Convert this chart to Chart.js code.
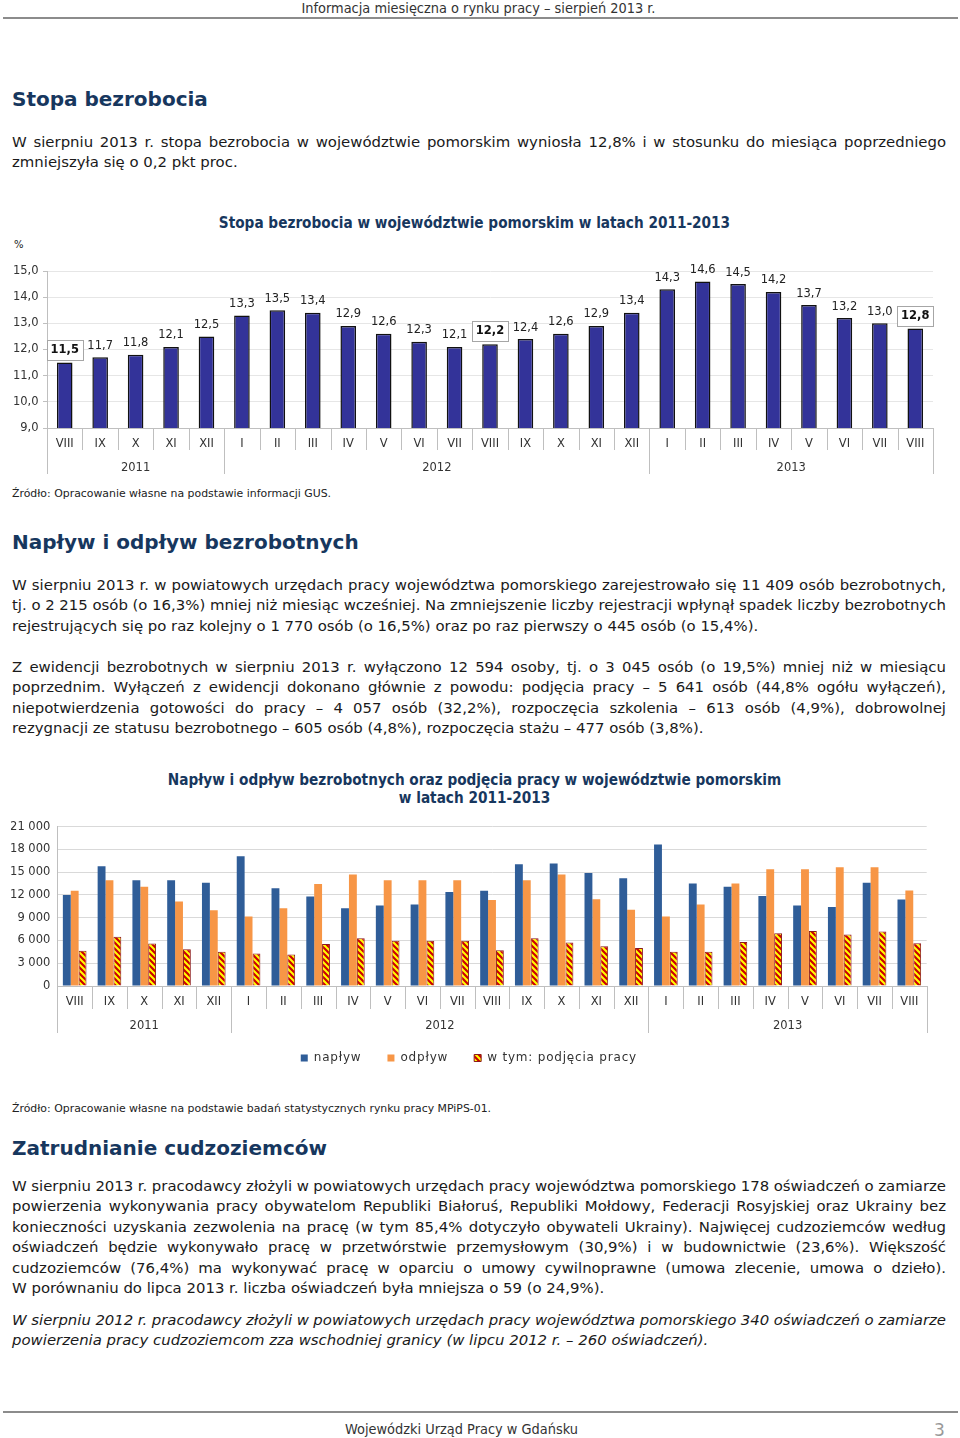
<!DOCTYPE html>
<html lang="pl">
<head>
<meta charset="utf-8">
<title>Informacja miesięczna o rynku pracy – sierpień 2013 r.</title>
<script src="https://cdn.jsdelivr.net/npm/chart.js@4.4.1/dist/chart.umd.min.js"></script>
<style>
  html, body { margin: 0; padding: 0; background: #fff; }
  body { width: 960px; height: 1438px; position: relative; overflow: hidden;
         font-family: "DejaVu Sans", Verdana, sans-serif; color: #1a1a1a; }
  .abs { position: absolute; }
  .narrow { font-family: "DejaVu Sans Condensed", "Liberation Sans Narrow", "DejaVu Sans", sans-serif; font-stretch: condensed; }
  .runhead { top: 0; left: 0; width: 957px; text-align: center; font-size: 14.4px; line-height: 16px; color: #333; }
  .rule { left: 3px; width: 955px; height: 2px; background: #8c8c8c; }
  h2 { position: absolute; left: 12px; margin: 0; font-size: 20px; line-height: 24px; font-weight: bold; color: #17375e; }
  .para { position: absolute; left: 12px; width: 934px; font-size: 14.9px; line-height: 20.4px; }
  .ln { text-align: justify; text-align-last: justify; word-spacing: -3px; }
  .ln.last { text-align-last: left; word-spacing: 0; }
  .para.it { font-style: italic; }
  .src { position: absolute; left: 12px; font-size: 10.9px; line-height: 14px; color: #222; }
  .ctitle { position: absolute; left: 0; width: 949px; text-align: center; font-weight: bold; font-size: 15.2px; line-height: 18px; color: #17375e; }
  canvas { position: absolute; left: 0; }
</style>
</head>
<body>
<div class="abs runhead narrow">Informacja miesięczna o rynku pracy – sierpień 2013 r.</div>
<div class="abs rule" style="top:17px"></div>

<h2 style="top:87px">Stopa bezrobocia</h2>
<div class="para" style="top:132px">
  <div class="ln">W sierpniu 2013 r. stopa bezrobocia w województwie pomorskim wyniosła 12,8% i w stosunku do miesiąca poprzedniego</div>
  <div class="ln last">zmniejszyła się o 0,2 pkt proc.</div>
</div>

<div class="ctitle narrow" style="top:214px">Stopa bezrobocia w województwie pomorskim w latach 2011-2013</div>
<div class="abs" style="top:239px; left:14px; font-size:10px; color:#222">%</div>
<canvas id="rateChart" width="960" height="232" style="top:250px; width:960px; height:232px"></canvas>
<div class="src" style="top:487px">Źródło: Opracowanie własne na podstawie informacji GUS.</div>

<h2 style="top:530px">Napływ i odpływ bezrobotnych</h2>
<div class="para" style="top:575px">
  <div class="ln">W sierpniu 2013 r. w powiatowych urzędach pracy województwa pomorskiego zarejestrowało się 11 409 osób bezrobotnych,</div>
  <div class="ln">tj. o 2 215 osób (o 16,3%) mniej niż miesiąc wcześniej. Na zmniejszenie liczby rejestracji wpłynął spadek liczby bezrobotnych</div>
  <div class="ln last">rejestrujących się po raz kolejny o 1 770 osób (o 16,5%) oraz po raz pierwszy o 445 osób (o 15,4%).</div>
</div>
<div class="para" style="top:657px">
  <div class="ln">Z ewidencji bezrobotnych w sierpniu 2013 r. wyłączono 12 594 osoby, tj. o 3 045 osób (o 19,5%) mniej niż w miesiącu</div>
  <div class="ln">poprzednim. Wyłączeń z ewidencji dokonano głównie z powodu: podjęcia pracy – 5 641 osób (44,8% ogółu wyłączeń),</div>
  <div class="ln">niepotwierdzenia gotowości do pracy – 4 057 osób (32,2%), rozpoczęcia szkolenia – 613 osób (4,9%), dobrowolnej</div>
  <div class="ln last">rezygnacji ze statusu bezrobotnego – 605 osób (4,8%), rozpoczęcia stażu – 477 osób (3,8%).</div>
</div>

<div class="ctitle narrow" style="top:771px">Napływ i odpływ bezrobotnych oraz podjęcia pracy w województwie pomorskim<br>w latach 2011-2013</div>
<canvas id="flowChart" width="960" height="270" style="top:810px; width:960px; height:270px"></canvas>
<div class="src" style="top:1102px">Źródło: Opracowanie własne na podstawie badań statystycznych rynku pracy MPiPS-01.</div>

<h2 style="top:1136px">Zatrudnianie cudzoziemców</h2>
<div class="para" style="top:1176px">
  <div class="ln">W sierpniu 2013 r. pracodawcy złożyli w powiatowych urzędach pracy województwa pomorskiego 178 oświadczeń o zamiarze</div>
  <div class="ln">powierzenia wykonywania pracy obywatelom Republiki Białoruś, Republiki Mołdowy, Federacji Rosyjskiej oraz Ukrainy bez</div>
  <div class="ln">konieczności uzyskania zezwolenia na pracę (w tym 85,4% dotyczyło obywateli Ukrainy). Najwięcej cudzoziemców według</div>
  <div class="ln">oświadczeń będzie wykonywało pracę w przetwórstwie przemysłowym (30,9%) i w budownictwie (23,6%). Większość</div>
  <div class="ln">cudzoziemców (76,4%) ma wykonywać pracę w oparciu o umowy cywilnoprawne (umowa zlecenie, umowa o dzieło).</div>
  <div class="ln last">W porównaniu do lipca 2013 r. liczba oświadczeń była mniejsza o 59 (o 24,9%).</div>
</div>
<div class="para it" style="top:1310px">
  <div class="ln">W sierpniu 2012 r. pracodawcy złożyli w powiatowych urzędach pracy województwa pomorskiego 340 oświadczeń o zamiarze</div>
  <div class="ln last">powierzenia pracy cudzoziemcom zza wschodniej granicy (w lipcu 2012 r. – 260 oświadczeń).</div>
</div>

<div class="abs rule" style="top:1411px"></div>
<div class="abs narrow" style="top:1421px; left:0; width:923px; text-align:center; font-size:14.4px; line-height:16px; color:#333">Wojewódzki Urząd Pracy w Gdańsku</div>
<div class="abs" style="top:1420px; left:934px; font-size:17px; line-height:20px; color:#999">3</div>

<script>
// months Aug 2011 - Aug 2013
const months = ['VIII', 'IX', 'X', 'XI', 'XII', 'I', 'II', 'III', 'IV', 'V', 'VI', 'VII',
                'VIII', 'IX', 'X', 'XI', 'XII', 'I', 'II', 'III', 'IV', 'V', 'VI', 'VII', 'VIII'];
const years = ['2011', '2012', '2013'];
const yearStart = [0, 5, 17];

// unemployment rate, %
const rate = [11.5, 11.7, 11.8, 12.1, 12.5, 13.3, 13.5, 13.4, 12.9, 12.6, 12.3, 12.1,
              12.2, 12.4, 12.6, 12.9, 13.4, 14.3, 14.6, 14.5, 14.2, 13.7, 13.2, 13.0, 12.8];
const boxedIdx = [0, 12, 24];   // August values shown in a box

// inflow / outflow / of which: job take-up (persons)
const inflow = [12000, 15800, 13950, 13950, 13600, 17100, 12900, 11800, 10250, 10600, 10750, 12400,
                12550, 16050, 16150, 14900, 14200, 18650, 13500, 13100, 11850, 10600, 10400, 13624, 11409];
const outflow = [12550, 13950, 13100, 11150, 10000, 9150, 10250, 13450, 14700, 13950, 13950, 13950,
                 11350, 13950, 14700, 11450, 10050, 9150, 10750, 13500, 15400, 15400, 15650, 15639, 12594];
const jobs = [4650, 6500, 5600, 4850, 4500, 4300, 4150, 5550, 6300, 5950, 5950, 5950,
              4700, 6300, 5750, 5250, 5000, 4500, 4500, 5800, 6950, 7250, 6800, 7200, 5641];

const FONT = '"DejaVu Sans", Verdana, sans-serif';
const tickFont = { family: FONT, size: 11.5 };
const axisGrey = '#bfbfbf';

function fmtComma(v) { return v.toFixed(1).replace('.', ','); }
function fmtThousands(v) { return String(v).replace(/\B(?=(\d{3})+(?!\d))/g, ' '); }

// separators under the category axis + year labels
const yearGroups = {
  id: 'yearGroups',
  afterDraw(chart, args, opts) {
    const x = chart.scales.x;
    const ctx = chart.ctx;
    const base = chart.chartArea.bottom;
    const n = chart.data.labels.length;
    const edge = i => x.getPixelForValue(i - 0.5);
    ctx.save();
    ctx.strokeStyle = axisGrey;
    ctx.lineWidth = 1;
    for (let i = 0; i <= n; i++) {
      const isYear = i === n || yearStart.includes(i);
      const px = Math.round(edge(i)) + 0.5;
      ctx.beginPath();
      ctx.moveTo(px, base);
      ctx.lineTo(px, base + (isYear ? opts.yearLen : opts.catLen));
      ctx.stroke();
    }
    ctx.fillStyle = '#333';
    ctx.font = '11.5px ' + FONT;
    ctx.textAlign = 'center';
    ctx.textBaseline = 'middle';
    years.forEach((y, k) => {
      const a = edge(yearStart[k]);
      const b = edge(k + 1 < yearStart.length ? yearStart[k + 1] : n);
      ctx.fillText(y, (a + b) / 2, base + opts.labelOffset);
    });
    ctx.restore();
  }
};

// value labels above the rate bars
const rateLabels = {
  id: 'rateLabels',
  afterDatasetsDraw(chart) {
    const ctx = chart.ctx;
    const meta = chart.getDatasetMeta(0);
    ctx.save();
    ctx.textAlign = 'center';
    ctx.textBaseline = 'middle';
    meta.data.forEach((bar, i) => {
      const txt = fmtComma(chart.data.datasets[0].data[i]);
      if (boxedIdx.includes(i)) {
        ctx.font = 'bold 11.5px ' + FONT;
        const w = Math.round(ctx.measureText(txt).width + 8);
        const h = 20;
        const bx = Math.round(bar.x - w / 2) + 0.5;
        const by = Math.round(bar.y - 3 - h) + 0.5;
        ctx.fillStyle = '#fff';
        ctx.fillRect(bx, by, w, h);
        ctx.strokeStyle = '#a6a6a6';
        ctx.lineWidth = 1;
        ctx.strokeRect(bx, by, w, h);
        ctx.fillStyle = '#111';
        ctx.fillText(txt, bar.x, by + h / 2);
      } else {
        ctx.font = '11.5px ' + FONT;
        ctx.fillStyle = '#222';
        ctx.fillText(txt, bar.x, bar.y - 11.5);
      }
    });
    ctx.restore();
  }
};

new Chart(document.getElementById('rateChart'), {
  type: 'bar',
  data: {
    labels: months,
    datasets: [{
      data: rate,
      backgroundColor: '#333399',
      borderColor: '#111',
      borderWidth: 1.5,
      borderSkipped: false,
      barPercentage: 0.44,
      categoryPercentage: 1
    }]
  },
  options: {
    responsive: false,
    animation: false,
    layout: { padding: { left: 0, right: 27, top: 21, bottom: 0 } },
    plugins: {
      legend: { display: false },
      tooltip: { enabled: false },
      yearGroups: { catLen: 22, yearLen: 46, labelOffset: 40 }
    },
    scales: {
      x: {
        grid: { display: false },
        border: { color: axisGrey },
        ticks: { font: tickFont, color: '#333', padding: 1, maxRotation: 0, autoSkip: false },
        afterFit: s => { s.height = 54; }
      },
      y: {
        min: 9,
        max: 15,
        ticks: { stepSize: 1, font: tickFont, color: '#333', padding: 4.5, callback: v => fmtComma(v) },
        grid: { color: '#e6e6e6', tickLength: 4, tickColor: axisGrey },
        border: { color: axisGrey },
        afterFit: s => { s.width = 47; }
      }
    }
  },
  plugins: [yearGroups, rateLabels]
});

// yellow with red diagonal stripes
function makeHatch() {
  const c = document.createElement('canvas');
  c.width = 6;
  c.height = 6;
  const g = c.getContext('2d');
  g.fillStyle = '#ffff00';
  g.fillRect(0, 0, 6, 6);
  g.strokeStyle = '#cc0000';
  g.lineWidth = 2.2;
  g.beginPath();
  g.moveTo(-1, -1); g.lineTo(7, 7);
  g.moveTo(-1, 5); g.lineTo(1, 7);
  g.moveTo(5, -1); g.lineTo(7, 1);
  g.stroke();
  return g.createPattern(c, 'repeat');
}

const flowChart = new Chart(document.getElementById('flowChart'), {
  type: 'bar',
  data: {
    labels: months,
    datasets: [
      { label: 'napływ', data: inflow, backgroundColor: '#2f5d98' },
      { label: 'odpływ', data: outflow, backgroundColor: '#f79646' },
      { label: 'w tym: podjęcia pracy', data: jobs, backgroundColor: makeHatch(), borderColor: '#8b1a1a', borderWidth: 1 }
    ]
  },
  options: {
    responsive: false,
    animation: false,
    datasets: { bar: { categoryPercentage: 0.68, barPercentage: 1 } },
    layout: { padding: { left: 11, right: 33.3, top: 16.7, bottom: 6 } },
    plugins: {
      legend: {
        position: 'bottom',
        labels: { boxWidth: 7, boxHeight: 7, padding: 26, color: '#333', font: { family: FONT, size: 12 } }
      },
      tooltip: { enabled: false },
      yearGroups: { catLen: 23, yearLen: 47, labelOffset: 40 }
    },
    scales: {
      x: {
        grid: { display: false },
        border: { color: axisGrey },
        ticks: { font: tickFont, color: '#333', padding: 1, maxRotation: 0, autoSkip: false },
        afterFit: s => { s.height = 40; }
      },
      y: {
        min: 0,
        max: 21000,
        ticks: { stepSize: 3000, font: tickFont, color: '#333', padding: 7, callback: v => fmtThousands(v) },
        grid: { color: '#d9d9d9', drawTicks: false },
        border: { color: axisGrey },
        afterFit: s => { s.width = 46.3; }
      }
    }
  },
  plugins: [yearGroups]
});

// legend text in the original is slightly letter-spaced
const lg = flowChart.legend;
['fit', 'draw'].forEach(fn => {
  const orig = lg[fn].bind(lg);
  lg[fn] = function (...args) {
    const c = flowChart.ctx;
    c.save();
    c.letterSpacing = '0.8px';
    const r = orig(...args);
    c.restore();
    return r;
  };
});
flowChart.update();
</script>
</body>
</html>
